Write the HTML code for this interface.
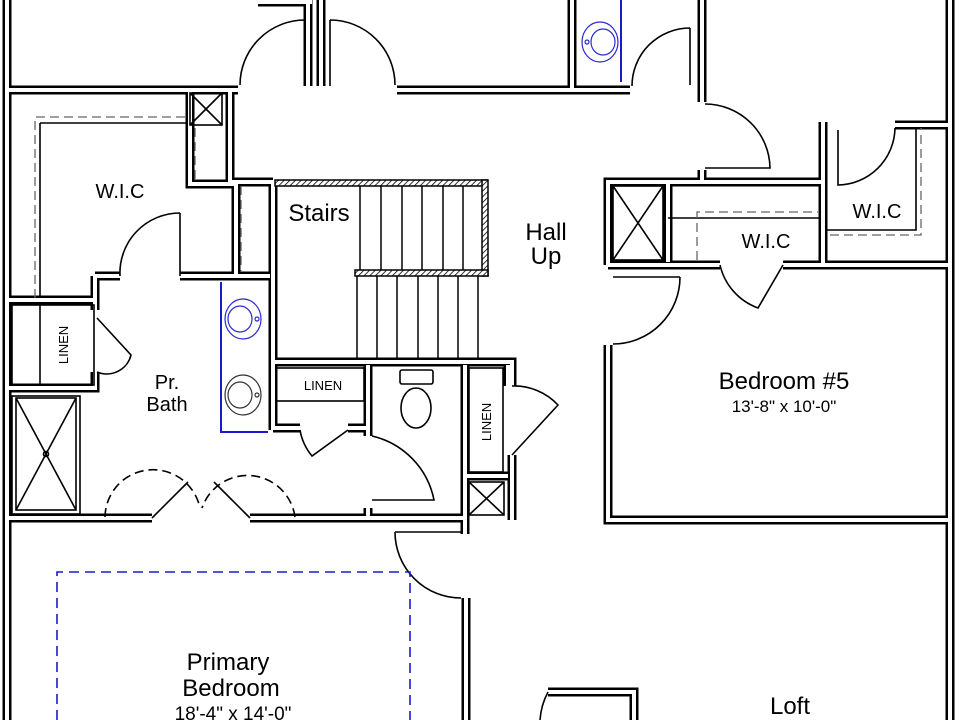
<!DOCTYPE html>
<html><head><meta charset="utf-8"><style>
html,body{margin:0;padding:0;background:#fff;width:960px;height:720px;overflow:hidden}
svg{display:block}
text{font-family:"Liberation Sans",sans-serif;fill:#000}
</style></head><body>
<svg width="960" height="720" viewBox="0 0 960 720" xmlns="http://www.w3.org/2000/svg">
<defs>
<pattern id="hat" width="4" height="4" patternUnits="userSpaceOnUse" patternTransform="rotate(45)">
<rect width="4" height="4" fill="#fff"/><line x1="0" y1="0" x2="0" y2="4" stroke="#000" stroke-width="1.6"/></pattern>
<g id="W" fill="none" stroke-linecap="butt" stroke-linejoin="miter">
<path d="M7 0V720"/>
<path d="M7 90H238"/>
<path d="M258 2H312"/>
<path d="M308 0V86"/><path d="M321 0V86"/>
<path d="M397 90H630"/>
<path d="M572 0V88"/><path d="M702 0V102"/>
<path d="M950 0V720"/>
<path d="M895 125H950"/>
<path d="M823 122V263"/>
<path d="M702 170V182"/>
<path d="M823 182H608V265"/>
<path d="M608 265H720"/><path d="M783 265H950"/>
<path d="M668 182V262"/>
<path d="M608 345V520H950"/>
<path d="M230 90V182H273"/>
<path d="M190 92V184H236V276"/>
<path d="M180 276H270"/><path d="M95 276H120"/>
<path d="M95 276V300H7"/>
<path d="M95 300V310"/>
<path d="M95 372V388H7"/>
<path d="M273 182V430"/>
<path d="M273 362H512V386"/>
<path d="M512 455V520"/>
<path d="M273 428H300"/><path d="M348 428H368"/>
<path d="M368 365V436"/><path d="M368 508V518"/>
<path d="M465 365V520"/>
<path d="M508 365V386"/>
<path d="M465 476H508"/>
<path d="M7 518H152"/><path d="M250 518H466"/>
<path d="M465 520V534"/>
<path d="M466 598V720"/>
<path d="M548 692H634V720"/>
</g>
</defs>
<use href="#W" stroke="#000" stroke-width="9"/>
<use href="#W" stroke="#fff" stroke-width="4"/>

<rect x="275" y="180" width="212" height="6" fill="url(#hat)" stroke="#000" stroke-width="1.5"/>
<rect x="482" y="180" width="6" height="96" fill="url(#hat)" stroke="#000" stroke-width="1.5"/>
<rect x="355" y="270" width="133" height="6" fill="url(#hat)" stroke="#000" stroke-width="1.5"/>
<g stroke="#000" stroke-width="1.5">
<line x1="360" y1="186" x2="360" y2="270"/><line x1="381" y1="186" x2="381" y2="270"/>
<line x1="402" y1="186" x2="402" y2="270"/><line x1="422" y1="186" x2="422" y2="270"/>
<line x1="443" y1="186" x2="443" y2="270"/><line x1="463" y1="186" x2="463" y2="270"/>
<line x1="357" y1="276" x2="357" y2="358"/><line x1="377" y1="276" x2="377" y2="358"/>
<line x1="397" y1="276" x2="397" y2="358"/><line x1="418" y1="276" x2="418" y2="358"/>
<line x1="438" y1="276" x2="438" y2="358"/><line x1="458" y1="276" x2="458" y2="358"/>
<line x1="478" y1="276" x2="478" y2="358"/>
</g>

<g fill="none" stroke="#000" stroke-width="1.6">
<path d="M305 20V86M305 20A65 65 0 0 0 240 85"/>
<path d="M330 20V86M330 20A65 65 0 0 1 395 85"/>
<path d="M690 28V85M690 28A58 58 0 0 0 632 86"/>
<path d="M705 104A65 65 0 0 1 770 168H705"/>
<path d="M613 277H680M680 277A67 67 0 0 1 613 344"/>
<path d="M895 130V128A58 58 0 0 1 838 185V130"/>
<path d="M720 265A60 60 0 0 0 758 308L783 265"/>
<path d="M180 213V276M180 213A60 60 0 0 0 120 276"/>
<path d="M97 318L131 355A25 25 0 0 1 97 372"/>
<path d="M300 430A55 55 0 0 0 312 456L348 430"/>
<path d="M372 436A82 82 0 0 1 434 500H372"/>
<path d="M512 386A60 60 0 0 1 558 405L512 455"/>
<path d="M395 532H461M395 532A66 66 0 0 0 461 598"/>
<path d="M152 518L188 482M250 518L214 482"/>
<path d="M105 517A48 48 0 0 1 200 508M295 517A48 48 0 0 0 202 508" stroke-dasharray="9 5"/>
<path d="M548 692A70 70 0 0 0 540 720"/>
<rect x="190" y="93" width="32" height="32"/><path d="M190 93L222 125M222 93L190 125"/>
<rect x="613" y="186" width="50" height="74"/><path d="M613 186L663 260M663 186L613 260"/>
<rect x="469" y="482" width="35" height="33"/><path d="M469 482L504 515M504 482L469 515"/>
<path d="M40 123V298M40 123H188"/>
<path d="M668 218H820"/>
<path d="M826 230H916V128"/>
<rect x="12" y="305" width="82" height="80"/><path d="M40 305V385"/>
<rect x="276" y="368" width="88" height="33"/>
<rect x="469" y="368" width="34" height="104"/>
<rect x="12" y="396" width="68" height="118"/><rect x="16" y="398" width="60" height="112"/>
<path d="M16 398L76 510M76 398L16 510"/><circle cx="46" cy="454" r="2.5"/>
<rect x="400" y="370" width="33" height="14" rx="2"/>
<ellipse cx="416" cy="408" rx="15" ry="20"/>
</g>
<g fill="none" stroke="#666" stroke-width="1.3" stroke-dasharray="9 5">
<path d="M35 298V117H186"/><path d="M195 128V182"/><path d="M241 186V272"/>
<path d="M697 260V212H818"/><path d="M830 235H921V128"/>
</g>
<g fill="none" stroke="#1a1acc" stroke-width="2">
<path d="M221 282V432H268"/><path d="M621 0V82"/>
<path d="M57 720V572H410V720" stroke-dasharray="10 6" stroke-width="1.6"/>
</g>
<g fill="none" stroke="#2a2ad0" stroke-width="1.2">
<ellipse cx="243" cy="319" rx="18" ry="20"/><ellipse cx="240" cy="319" rx="12" ry="13"/><circle cx="257" cy="319" r="2"/>
<ellipse cx="600" cy="42" rx="18" ry="20"/><ellipse cx="603" cy="42" rx="12" ry="13"/><circle cx="587" cy="42" r="2"/>
</g>
<g fill="none" stroke="#333" stroke-width="1.2">
<ellipse cx="243" cy="395" rx="18" ry="20"/><ellipse cx="240" cy="395" rx="12" ry="13"/><circle cx="257" cy="395" r="2"/>
</g>

<text x="120" y="198" font-size="20" text-anchor="middle">W.I.C</text>
<text x="319" y="221" font-size="24" text-anchor="middle">Stairs</text>
<text x="546" y="240" font-size="24" text-anchor="middle">Hall</text>
<text x="546" y="264" font-size="24" text-anchor="middle">Up</text>
<text x="766" y="248" font-size="20" text-anchor="middle">W.I.C</text>
<text x="877" y="218" font-size="20" text-anchor="middle">W.I.C</text>
<text x="167" y="389" font-size="20" text-anchor="middle">Pr.</text>
<text x="167" y="411" font-size="20" text-anchor="middle">Bath</text>
<text x="323" y="390" font-size="13" text-anchor="middle">LINEN</text>
<text transform="translate(68,345) rotate(-90)" font-size="13" text-anchor="middle">LINEN</text>
<text transform="translate(491,422) rotate(-90)" font-size="13" text-anchor="middle">LINEN</text>
<text x="784" y="389" font-size="24" text-anchor="middle">Bedroom #5</text>
<text x="784" y="412" font-size="17" text-anchor="middle">13'-8" x 10'-0"</text>
<text x="228" y="670" font-size="24" text-anchor="middle">Primary</text>
<text x="231" y="696" font-size="24" text-anchor="middle">Bedroom</text>
<text x="233" y="720" font-size="19" text-anchor="middle">18'-4" x 14'-0"</text>
<text x="790" y="714" font-size="24" text-anchor="middle">Loft</text>
</svg>
</body></html>
